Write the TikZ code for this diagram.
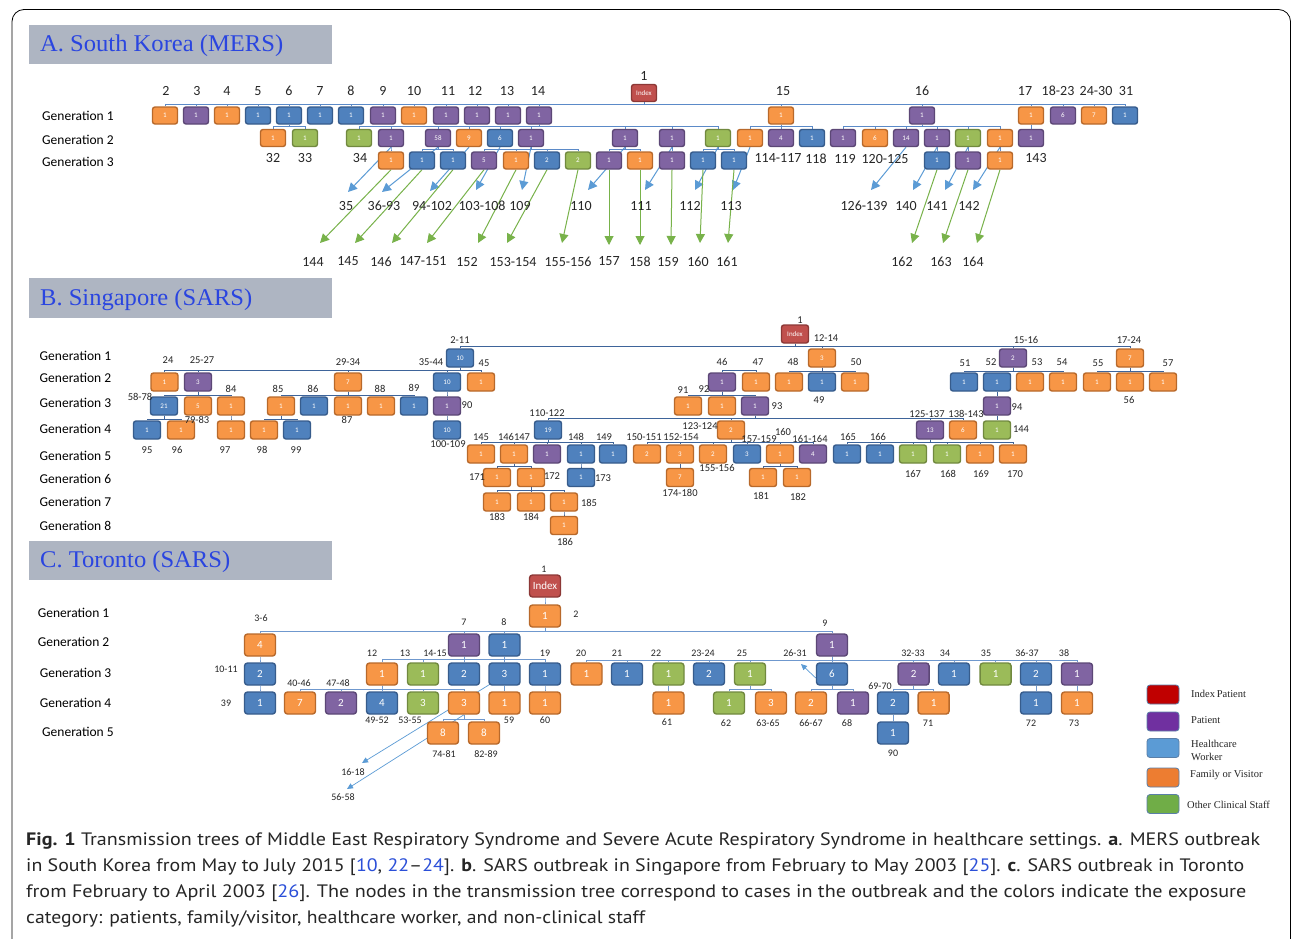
\documentclass[tikz,border=0pt]{standalone}
\usepackage{fontspec}
\usepackage{graphicx}
\usetikzlibrary{arrows.meta}
\newfontfamily\calfont{Carlito}
\newfontfamily\capfont{PT Sans}
\newfontfamily\serfont{Liberation Serif}
\definecolor{orF}{HTML}{F79646}\definecolor{orD}{HTML}{B8692B}
\definecolor{puF}{HTML}{8064A2}\definecolor{puD}{HTML}{5C4776}
\definecolor{blF}{HTML}{4F81BD}\definecolor{blD}{HTML}{375C8C}
\definecolor{grF}{HTML}{9BBB59}\definecolor{grD}{HTML}{71893F}
\definecolor{rdF}{HTML}{C0504D}\definecolor{rdD}{HTML}{8C3836}
\definecolor{lnA}{HTML}{5B8AC8}
\definecolor{lnB}{HTML}{3E649A}
\definecolor{lnC}{HTML}{6F98CE}
\definecolor{arB}{HTML}{5B9BD5}
\definecolor{arG}{HTML}{78B24A}
\definecolor{hdr}{HTML}{AEB5C2}
\definecolor{hdt}{HTML}{2A45E0}
\definecolor{txt}{HTML}{262626}
\definecolor{lk}{HTML}{2B4FD8}
\definecolor{legR}{HTML}{C00000}
\definecolor{legP}{HTML}{7030A0}
\definecolor{legB}{HTML}{5B9BD5}
\definecolor{legO}{HTML}{ED7D31}
\definecolor{legG}{HTML}{70AD47}
\definecolor{legD}{HTML}{5A7FA8}
\pgfdeclarelayer{bg}\pgfdeclarelayer{paper}\pgfsetlayers{paper,bg,main}
\newcommand{\tbus}[4][cA]{\foreach \cc in {#4}{\draw[#1] (#2.south) -- (#2.south |- 0,#3) -| (\cc.north);}}
\newcommand{\myref}[1]{\textcolor{lk}{#1}}
\tikzset{
  nd/.style={draw, rounded corners=2.5pt, line width=1.4pt, inner sep=0pt, text=white, font=\calfont\fontsize{7}{7}\selectfont},
  nA/.style={nd, minimum width=25pt, minimum height=17pt},
  nB/.style={nd, minimum width=27pt, minimum height=18pt},
  nC/.style={nd, minimum width=31pt, minimum height=22pt, rounded corners=3pt, font=\calfont\fontsize{11}{11}\selectfont},
  cO/.style={fill=orF, draw=orD}, cP/.style={fill=puF, draw=puD},
  cB/.style={fill=blF, draw=blD}, cG/.style={fill=grF, draw=grD},
  cR/.style={fill=rdF, draw=rdD},
  cA/.style={draw=lnA, line width=1pt},
  cBl/.style={draw=lnB, line width=1pt},
  cC/.style={draw=lnC, line width=1pt},
  lA/.style={inner sep=0pt, text=txt, font=\calfont\fontsize{14}{14}\selectfont},
  lB/.style={inner sep=0pt, text=txt, font=\calfont\fontsize{10.5}{10.5}\selectfont},
  lC/.style={inner sep=0pt, text=txt, font=\calfont\fontsize{10}{10}\selectfont},
  gen/.style={inner sep=0pt, anchor=west, text=black, font=\calfont\fontsize{13.5}{13.5}\selectfont},
  barr/.style={draw=arB, line width=1pt, -{Triangle[length=9pt,width=9pt]}},
  garr/.style={draw=arG, line width=1pt, -{Triangle[length=9pt,width=9pt]}},
  carr/.style={draw=arB, line width=0.7pt, -{Triangle[length=6pt,width=5.5pt]}},
  hdbox/.style={fill=hdr, draw=none},
  hdtext/.style={anchor=west, inner sep=0pt, text=hdt},
  legbox/.style={draw=legD, line width=0.8pt, rounded corners=3pt, minimum width=32pt, minimum height=19pt, inner sep=0pt},
  legtext/.style={anchor=west, inner sep=0pt, text=txt, align=left, font=\serfont\fontsize{10.5}{13}\selectfont},
  capt/.style={anchor=base west, inner sep=0pt, text=txt, font=\capfont\fontsize{18}{18}\selectfont}
}
\begin{document}
\begin{tikzpicture}[x=1pt,y=-1pt]
\useasboundingbox (0,0) rectangle (1292,938);
\begin{pgfonlayer}{paper}
\fill[white] (0,0) rectangle (1292,938);
\end{pgfonlayer}
\draw[line width=0.8pt, rounded corners=12pt] (12,960) -- (12,9.5) -- (1290.5,9.5) -- (1290.5,960);

% headers
\fill[hdbox] (29,25) rectangle (332,64);
\node[hdtext] (hA) at (40,46) {\resizebox{243pt}{\height}{\serfont\fontsize{24}{24}\selectfont A. South Korea (MERS)}};
\fill[hdbox] (29,278) rectangle (332,318);
\node[hdtext] (hB) at (40,300) {\resizebox{212pt}{\height}{\serfont\fontsize{24}{24}\selectfont B. Singapore (SARS)}};
\fill[hdbox] (29,541) rectangle (332,580);
\node[hdtext] (hC) at (40,562) {\resizebox{190pt}{\height}{\serfont\fontsize{24}{24}\selectfont C. Toronto (SARS)}};

%================ PANEL A =================
\node[gen] (gA1) at (42,116) {Generation 1};
\node[gen] (gA2) at (42,140) {Generation 2};
\node[gen] (gA3) at (42,161.5) {Generation 3};

\node[nA,cR] (aI) at (644,93) {Index};
\node[lA] (lAone) at (644,76) {1};
\foreach \n/\x/\s/\t in {a2/165/cO/1,a3/196/cP/1,a4/227/cO/1,a5/258/cB/1,a6/289/cB/1,a7/320/cB/1,a8/351/cB/1,a9/383/cP/1,a10/414/cO/1,a11/446/cP/1,a12/477/cP/1,a13/508/cP/1,a14/539/cP/1,a15/781/cO/1,a16/922/cP/1,a17/1031/cO/1,a18/1063/cP/6,a24/1094/cO/7,a31/1125/cB/1}
  \node[nA,\s] (\n) at (\x,115.5) {\t};
\foreach \n/\x/\s/\t in {a32/273/cO/1,a33/305/cG/1,a34/359/cG/1,b2/391/cP/1,b58/438/cP/58,b9/469/cO/9,b6/500/cB/6,b1f/531/cP/1,b1g/625/cP/1,b1h/672/cP/1,b1i/718/cG/1,b15a/750/cO/1,b114/781/cP/4,b118/812/cB/1,b119/843/cP/1,b120/875/cO/6,b126/906/cP/14,b140/937/cP/1,b141/968/cG/1,b142/1000/cO/1,b143/1031/cP/1}
  \node[nA,\s] (\n) at (\x,138) {\t};
\foreach \n/\x/\s/\t in {c391/391/cO/1,c422/422/cB/1,c453/453/cB/1,c484/484/cP/5,c516/516/cO/1,c547/547/cB/2,c578/578/cG/2,c609/609/cP/1,c640/640/cO/1,c672/672/cP/1,c703/703/cB/1,c734/734/cB/1,c937/937/cB/1,c968/968/cP/1,c1000/1000/cO/1}
  \node[nA,\s] (\n) at (\x,160.5) {\t};

\foreach \t/\x [count=\i] in {2/166,3/197,4/227,5/258,6/289,7/320,8/351,9/383,10/414,11/448,12/475,13/507,14/538,15/783,16/922,17/1025,18-23/1058,24-30/1096,31/1126}
  \node[lA] (lAt\i) at (\x,91) {\t};
\foreach \t/\x/\y [count=\i] in {32/273/158,33/305/158,34/360/158,114-117/778/158,118/816/159,119/845/159,120-125/885/159,143/1036/158}
  \node[lA] (lAm\i) at (\x,\y) {\t};

\foreach \s/\tx/\ty/\lb/\lx [count=\i] in {b2/348/192/35/346,b58/382/192/36-93/384,b9/430/191/94-102/432,b6/476/190/103-108/482,b1f/522/190/109/520,b1g/588/190/110/581,b1h/645/190/111/641,b1i/695/190/112/690,b15a/733/190/113/731,b126/871/190/126-139/864,b140/913/190/140/906,b141/945/190/141/937,b142/973/190/142/969}
{
  \coordinate (tb\i) at (\tx,\ty);
  \node[lA] (lb\i) at (\lx,205.5) {\lb};
  \begin{pgfonlayer}{bg}\draw[barr] (\s.south) -- (tb\i);\end{pgfonlayer}
}
\foreach \s/\tx/\ty/\lb/\lx [count=\i] in {c391/320/243/144/313,c422/355/243/145/348,c453/392/243/146/381,c484/427/243/147-151/423,c516/478/243/152/467,c547/507/243/153-154/513,c578/562/243/155-156/568,c609/609/245/157/609,c640/640/245/158/640,c672/671/245/159/668,c703/700/243/160/698,c734/728/243/161/727,c937/912/243/162/902,c968/943/243/163/941,c1000/977/243/164/973}
{
  \coordinate (tg\i) at (\tx,\ty);
  \node[lA] (lg\i) at (\lx,261.5) {\lb};
  \begin{pgfonlayer}{bg}\draw[garr] (\s.south) -- (tg\i);\end{pgfonlayer}
}
\begin{pgfonlayer}{bg}
\tbus{aI}{104}{a2,a3,a4,a5,a6,a7,a8,a9,a10,a11,a12,a13,a14,a15,a16,a17,a18,a24,a31}
\tbus{a6}{126.5}{a32,a33}
\tbus{a14}{126.5}{a34,b2,b58,b9,b6,b1f,b1g,b1h,b1i}
\tbus{a15}{126.5}{b15a,b114,b118}
\tbus{a16}{126.5}{b119,b120,b126,b140,b141,b142}
\tbus{a17}{126.5}{b143}
\tbus{b2}{149.5}{c391}
\tbus{b58}{149.5}{c422,c453}
\tbus{b1f}{149.5}{c484,c516,c547,c578}
\tbus{b1g}{149.5}{c609,c640}
\tbus{b1h}{149.5}{c672}
\tbus{b1i}{149.5}{c703,c734}
\tbus{b140}{149.5}{c937}
\tbus{b141}{149.5}{c968}
\tbus{b142}{149.5}{c1000}
\end{pgfonlayer}

%================ PANEL B =================
\foreach \t/\y [count=\i] in {1/356,2/378,3/403,4/428.5,5/455.5,6/479,7/502,8/526}
  \node[gen] (gB\i) at (39.5,\y) {Generation \t};

\node[nB,cR] (sI) at (795,334) {Index};
\foreach \n/\x/\s/\t in {s2/460/cB/10,s12/822/cO/3,s15/1013/cP/2,s17/1130/cO/7}
  \node[nB,\s] (\n) at (\x,358) {\t};
\foreach \n/\x/\s/\t in {s24/164.5/cO/1,s25/198/cP/3,s29/348/cO/7,s35/447/cB/10,s45/481/cO/1,s46/722/cP/1,s47/756/cO/1,s48/789/cO/1,s49/822/cB/1,s50/855/cO/1,s51/964/cB/1,s52/997/cB/1,s53/1030/cO/1,s54/1063/cO/1,s55/1097/cO/1,s56/1130/cO/1,s57/1163/cO/1}
  \node[nB,\s] (\n) at (\x,382) {\t};
\foreach \n/\x/\s/\t in {s58/164/cB/21,s79/198/cO/5,s84/231/cO/1,s85/281/cO/1,s86/314/cB/1,s87/348/cO/1,s88/381/cO/1,s89/414/cB/1,s90/447/cP/1,s91/688/cO/1,s92/722/cO/1,s93/755/cP/1,s94/997/cP/1}
  \node[nB,\s] (\n) at (\x,406) {\t};
\foreach \n/\x/\s/\t in {s95/147/cB/1,s96/181/cO/1,s97/231/cO/1,s98/264/cO/1,s99/297/cB/1,s100/447/cB/10,s110/548/cB/19,s123/731/cO/2,s125/930/cP/13,s138/963/cO/6,s144/997/cG/1}
  \node[nB,\s] (\n) at (\x,430) {\t};
\foreach \n/\x/\s/\t in {s145/481/cO/1,s146/514/cO/1,s147/547/cP/1,s148/581/cB/1,s149/613/cB/1,s150/647/cO/2,s152/680/cO/3,s155/713/cO/2,s157/747/cB/3,s160/780/cO/1,s161/813/cP/4,s165/847/cB/1,s166/880/cB/1,s167/913/cG/1,s168/947/cG/1,s169/980/cO/1,s170/1013/cO/1}
  \node[nB,\s] (\n) at (\x,454) {\t};
\foreach \n/\x/\s/\t in {s171/497/cO/1,s172/531/cO/1,s173/581/cB/1,s174/680/cO/7,s181/763/cO/1,s182/797/cO/1}
  \node[nB,\s] (\n) at (\x,477.5) {\t};
\foreach \n/\x/\s/\t in {s183/497/cO/1,s184/531/cO/1,s185/564/cO/1}
  \node[nB,\s] (\n) at (\x,502) {\t};
\node[nB,cO] (s186) at (564,525.5) {1};

\foreach \t/\x/\y [count=\i] in {1/800/320,2-11/460/340,12-14/826/338,15-16/1026/340,17-24/1129/340,
  24/168/360,25-27/202/360,29-34/348/362,35-44/431/362,45/484/363,46/722/362,47/758/362,48/793/362,50/856/362,51/965/363,52/991/362,53/1037/362,54/1062/362,55/1098/363,57/1168/363,
  58-78/140/397,84/231/389,85/278/389,86/313/389,88/380/389,89/414/388,91/683/390,92/704/389,79-83/197/420,87/347/420,90/467/405,93/777/406,49/819/400,56/1129/400,94/1017/407,
  110-122/547/413,123-124/700/426,125-137/927/414,138-143/966/414,144/1021/429,
  95/147/450,96/177/450,97/225/450,98/262/450,99/296/450,100-109/448/444,
  145/481/437,146/506/437,147/522/437,148/576/437,149/604/437,150-151/644/437,152-154/681/437,157-159/759/439,160/783/432,161-164/810/439,165/848/437,166/878/437,
  155-156/717/468,167/913/474,168/948/474,169/981/474,170/1015/474,
  171/477/477,172/552/476,173/603/478,174-180/680/493,181/761/496,182/798/497,
  183/497/517,184/531/517,185/589/503,186/565/542}
  \node[lB] (lBt\i) at (\x,\y) {\t};

\begin{pgfonlayer}{bg}
\tbus[cBl]{sI}{346}{s2,s12,s15,s17}
\tbus[cBl]{s2}{370.5}{s24,s25,s29,s35,s45}
\draw[cBl] (s46.north) |- (s47.north |- 0,370.5) -- (s47.north);
\tbus[cBl]{s12}{371}{s48,s49,s50}
\tbus[cBl]{s15}{371}{s51,s52,s53,s54}
\tbus[cBl]{s17}{371}{s55,s56,s57}
\tbus[cBl]{s25}{395}{s58,s79,s84}
\tbus[cBl]{s29}{395}{s85,s86,s87,s88,s89}
\tbus[cBl]{s35}{395}{s90}
\tbus[cBl]{s46}{395}{s91,s92,s93}
\tbus[cBl]{s52}{395}{s94}
\tbus[cBl]{s58}{419}{s95,s96}
\tbus[cBl]{s84}{419}{s97}
\tbus[cBl]{s85}{419}{s98,s99}
\tbus[cBl]{s90}{419}{s100}
\tbus[cBl]{s93}{418}{s110,s123,s125,s138}
\tbus[cBl]{s94}{419}{s144}
\tbus[cBl]{s110}{442.5}{s145,s146,s147,s148,s149}
\tbus[cBl]{s123}{442.5}{s150,s152,s155,s157,s160,s161}
\tbus[cBl]{s125}{442.5}{s165,s166,s167,s168,s169,s170}
\tbus[cBl]{s146}{466}{s171,s172}
\tbus[cBl]{s148}{466}{s173}
\tbus[cBl]{s152}{466}{s174}
\tbus[cBl]{s160}{466}{s181,s182}
\tbus[cBl]{s172}{490}{s183,s184,s185}
\tbus[cBl]{s185}{514}{s186}
\end{pgfonlayer}

%================ PANEL C =================
\node[gen] (gC1) at (37.6,613) {Generation 1};
\node[gen] (gC2) at (37.6,641.5) {Generation 2};
\node[gen] (gC3) at (39.6,672.5) {Generation 3};
\node[gen] (gC4) at (39.6,703) {Generation 4};
\node[gen] (gC5) at (42,731.5) {Generation 5};

\node[nC,cR] (kI) at (545,586) {Index};
\node[nC,cO] (k1) at (545,616) {1};
\foreach \n/\x/\s/\t in {k36/260/cO/4,k7/464/cP/1,k8/504.5/cB/1,k9/832/cP/1}
  \node[nC,\s] (\n) at (\x,645) {\t};
\foreach \n/\x/\s/\t in {k1011/260/cB/2,k12/382/cO/1,k13/423/cG/1,k1415/464/cB/2,k1618/504.5/cB/3,k19/545/cB/1,k20/586.5/cO/1,k21/627/cB/1,k22/668.5/cG/1,k2324/709/cB/2,k25/750/cG/1,k2631/832/cB/6,k3233/913.6/cP/2,k34/954/cB/1,k35/995.6/cG/1,k3637/1036/cB/2,k38/1077/cP/1}
  \node[nC,\s] (\n) at (\x,674) {\t};
\foreach \n/\x/\s/\t in {k39/260/cB/1,k4046/300/cO/7,k4748/341/cP/2,k4952/382/cB/4,k5355/423/cG/3,k5658/464/cO/3,k59/504.5/cO/1,k60/545/cO/1,k61/668.5/cO/1,k62/729/cG/1,k6365/771/cO/3,k6667/811/cO/2,k68/853/cP/1,k6970/893/cB/2,k71/933.6/cO/1,k72/1036/cB/1,k73/1077/cO/1}
  \node[nC,\s] (\n) at (\x,703) {\t};
\foreach \n/\x/\s/\t in {k7481/443/cO/8,k8289/484/cO/8,k90/893/cB/1}
  \node[nC,\s] (\n) at (\x,733) {\t};

\foreach \t/\x/\y [count=\i] in {1/544/569,2/576/614,3-6/261/618,7/464/622,8/504/622,9/825/623,
  10-11/226/669,12/372/653,13/405/653,14-15/435/653,19/545/653,20/581/653,21/617/653,22/656/653,23-24/703/653,25/742/653,26-31/795/653,32-33/913/653,34/945/653,35/986/653,36-37/1027/653,38/1064/653,
  39/226/703,40-46/299/683,47-48/338/683,49-52/377/720,53-55/410/720,59/509/720,60/545/720,61/667/722,62/726/723,63-65/768/723,66-67/811/723,68/847/723,69-70/880/686,71/928/723,72/1031/723,73/1074/723,
  74-81/444/754,82-89/486/754,90/893/753,16-18/353/772,56-58/343/797}
  \node[lC] (lCt\i) at (\x,\y) {\t};

\coordinate (kt1) at (362,763);
\coordinate (kt2) at (347,789);
\coordinate (kt3) at (801,664);
\begin{pgfonlayer}{bg}
\tbus[cC]{kI}{601}{k1}
\tbus[cC]{k1}{631}{k36,k7,k8,k9}
\tbus[cC]{k36}{659}{k1011}
\tbus[cC]{k7}{659}{k12,k13,k1415,k19}
\tbus[cC]{k8}{659}{k1618}
\tbus[cC]{k9}{660}{k20,k21,k22,k2324,k25,k2631,k3233,k34,k35,k3637,k38}
\tbus[cC]{k1011}{689}{k39}
\tbus[cC]{k12}{689}{k4046,k4748,k4952,k5355,k5658}
\tbus[cC]{k1618}{689}{k59}
\tbus[cC]{k19}{689}{k60}
\tbus[cC]{k22}{689}{k61}
\tbus[cC]{k25}{689}{k62,k6365}
\tbus[cC]{k2631}{689}{k6667,k68}
\tbus[cC]{k3233}{689}{k6970,k71}
\tbus[cC]{k3637}{689}{k72}
\tbus[cC]{k38}{689}{k73}
\tbus[cC]{k5658}{719}{k7481,k8289}
\tbus[cC]{k6970}{719}{k90}
\draw[carr] ([xshift=-6pt,yshift=-5pt]k1618.center) -- (kt1);
\draw[carr] (k5658.south) -- (kt2);
\draw[carr] ([yshift=-4pt]k2631.west) -- (kt3);
\end{pgfonlayer}

%================ LEGEND =================
\node[legbox, fill=legR] (lg1) at (1163,694.5) {};
\node[legbox, fill=legP] (lg2) at (1163,721.5) {};
\node[legbox, fill=legB] (lg3) at (1163,748) {};
\node[legbox, fill=legO] (lg4) at (1163,777.5) {};
\node[legbox, fill=legG] (lg5) at (1163,804) {};
\node[legtext] (lt1) at (1191,694) {Index\,Patient};
\node[legtext] (lt2) at (1191,720) {Patient};
\node[legtext] (lt3) at (1191,750.5) {Healthcare\\Worker};
\node[legtext] (lt4) at (1190,775) {Family or Visitor};
\node[legtext] (lt5) at (1187,805) {Other Clinical Staff};

%================ CAPTION =================
\node[capt] (cap1) at (26,845) {\resizebox{1234pt}{\height}{\textbf{Fig. 1} Transmission trees of Middle East Respiratory Syndrome and Severe Acute Respiratory Syndrome in healthcare settings. \textbf{a}. MERS outbreak}};
\node[capt] (cap2) at (26,871) {\resizebox{1218pt}{\height}{in South Korea from May to July 2015 [\myref{10}, \myref{22}–\myref{24}]. \textbf{b}. SARS outbreak in Singapore from February to May 2003 [\myref{25}]. \textbf{c}. SARS outbreak in Toronto}};
\node[capt] (cap3) at (26,897) {\resizebox{1220pt}{\height}{from February to April 2003 [\myref{26}]. The nodes in the transmission tree correspond to cases in the outbreak and the colors indicate the exposure}};
\node[capt] (cap4) at (26,923) {\resizebox{619pt}{\height}{category: patients, family/visitor, healthcare worker, and non-clinical staff}};
\end{tikzpicture}
\end{document}
